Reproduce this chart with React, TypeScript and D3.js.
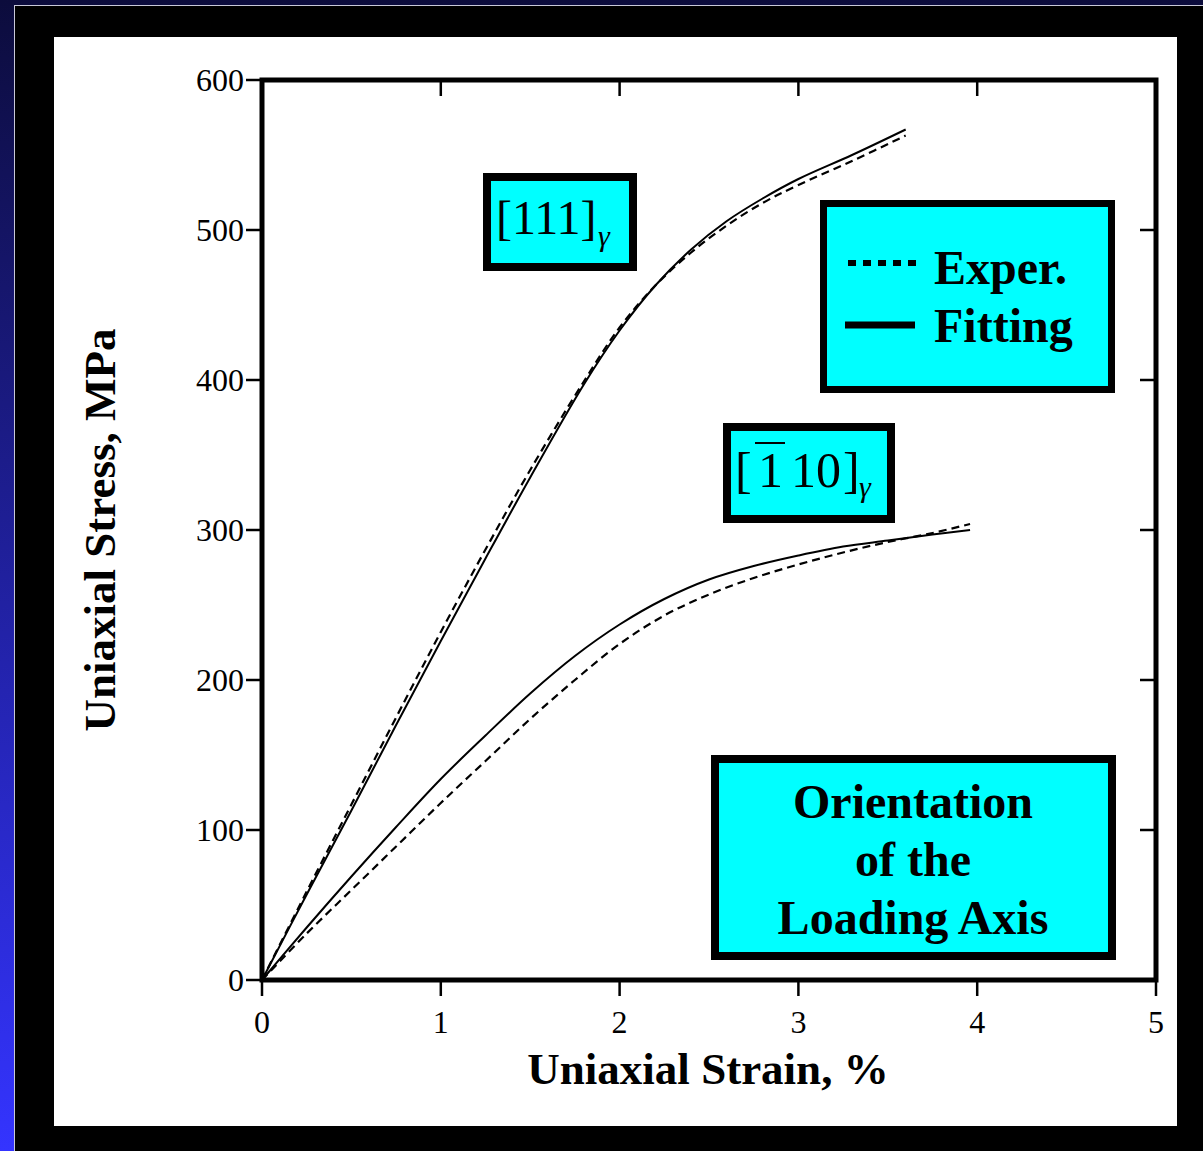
import React from 'react';
import * as d3 from 'd3';

// strain (%) / stress (MPa)
const fit111 = [
  [0, 0], [0.25, 57], [0.5, 113], [0.75, 170], [1.0, 226], [1.25, 281], [1.5, 335],
  [1.8, 397], [2.0, 433], [2.2, 463], [2.4, 487], [2.6, 506], [2.8, 521],
  [3.0, 534], [3.3, 550], [3.6, 567],
];
const exp111 = [
  [0, 0], [0.25, 59], [0.5, 117], [0.75, 175], [1.0, 232], [1.25, 287], [1.5, 340],
  [1.8, 399], [2.0, 435], [2.2, 463], [2.4, 485], [2.6, 503], [2.8, 518],
  [3.0, 530], [3.3, 546], [3.6, 563],
];
const fit110 = [
  [0, 0], [0.25, 35], [0.5, 69], [0.75, 102], [1.0, 134], [1.25, 163], [1.5, 191],
  [1.75, 216], [2.0, 237], [2.25, 254], [2.5, 267], [2.75, 276], [3.0, 283],
  [3.25, 289], [3.5, 293], [3.75, 297], [3.96, 300],
];
const exp110 = [
  [0, 0], [0.25, 31], [0.5, 60], [0.75, 89], [1.0, 118], [1.25, 146], [1.5, 174],
  [1.75, 200], [2.0, 224], [2.25, 243], [2.5, 257], [2.75, 268], [3.0, 277],
  [3.25, 285], [3.5, 292], [3.75, 298], [3.96, 304],
];
const xTicks = [0, 1, 2, 3, 4, 5];
const yTicks = [0, 100, 200, 300, 400, 500, 600];
const legendItems = ['Exper.', 'Fitting'];
const noteLines = ['Orientation', 'of the', 'Loading Axis'];

const serif = '"Liberation Serif", "Times New Roman", serif';

const App = () => {
  const x = d3.scaleLinear().domain([0, 5]).range([262, 1156]);
  const y = d3.scaleLinear().domain([0, 600]).range([980, 80]);
  const line = d3.line<number[]>()
    .x(d => x(d[0]))
    .y(d => y(d[1]))
    .curve(d3.curveCatmullRom.alpha(0.5));

  return (
    <div style={{ position: 'absolute', left: 0, top: 0 }}>
      <svg width={1203} height={1151} style={{ display: 'block' }}>
        <defs>
          <linearGradient id="bg" x1="0" y1="0" x2="0" y2="1">
            <stop offset="0" stopColor="#0c0c3c" />
            <stop offset="1" stopColor="#3434ff" />
          </linearGradient>
        </defs>
        <rect x={0} y={0} width={1203} height={1151} fill="url(#bg)" />
        <rect x={14.5} y={5.5} width={1200} height={1160} fill="#000" stroke="#c8c8d8" strokeWidth={1} />
        <rect x={54} y={37} width={1123} height={1089} fill="#fff" />

        {/* curves */}
        <path d={line(exp111) || ''} fill="none" stroke="#000" strokeWidth={2.2} strokeDasharray="8 5" />
        <path d={line(fit111) || ''} fill="none" stroke="#000" strokeWidth={2} />
        <path d={line(exp110) || ''} fill="none" stroke="#000" strokeWidth={2.2} strokeDasharray="8 5" />
        <path d={line(fit110) || ''} fill="none" stroke="#000" strokeWidth={2} />

        {/* frame */}
        <rect x={x(0)} y={y(600)} width={x(5) - x(0)} height={y(0) - y(600)}
          fill="none" stroke="#000" strokeWidth={5} />

        {/* y ticks */}
        {yTicks.map(t => (
          <g key={'y' + t}>
            <line x1={x(0) - 16} x2={x(0)} y1={y(t)} y2={y(t)} stroke="#000" strokeWidth={2.5} />
            {t > 0 && t < 600 && (
              <line x1={x(5) - 16} x2={x(5)} y1={y(t)} y2={y(t)} stroke="#000" strokeWidth={2.5} />
            )}
            <text x={x(0) - 18} y={y(t) + 11} textAnchor="end" fontFamily={serif} fontSize={32}>{t}</text>
          </g>
        ))}

        {/* x ticks */}
        {xTicks.map(t => (
          <g key={'x' + t}>
            <line x1={x(t)} x2={x(t)} y1={y(0)} y2={y(0) + 16} stroke="#000" strokeWidth={2.5} />
            {t > 0 && t < 5 && (
              <line x1={x(t)} x2={x(t)} y1={y(600)} y2={y(600) + 16} stroke="#000" strokeWidth={2.5} />
            )}
            <text x={x(t)} y={1033} textAnchor="middle" fontFamily={serif} fontSize={32}>{t}</text>
          </g>
        ))}

        {/* axis titles */}
        <text x={708} y={1084} textAnchor="middle" fontFamily={serif} fontWeight="bold" fontSize={45}>
          Uniaxial Strain, %
        </text>
        <text transform="translate(115,530) rotate(-90)" textAnchor="middle" fontFamily={serif}
          fontWeight="bold" fontSize={45}>
          Uniaxial Stress, MPa
        </text>

        {/* [111] label */}
        <rect x={487} y={177} width={146} height={90} fill="#00ffff" stroke="#000" strokeWidth={8} />
        <text x={496} y={234} fontFamily={serif} fontSize={48}>[111]</text>
        <text x={598} y={246} fontFamily={serif} fontStyle="italic" fontSize={30}>γ</text>

        {/* [-110] label */}
        <rect x={727} y={427} width={164} height={92} fill="#00ffff" stroke="#000" strokeWidth={8} />
        <text x={735} y={487} fontFamily={serif} fontSize={50}>[</text>
        <text x={758} y={487} fontFamily={serif} fontSize={50}>1</text>
        <line x1={755} x2={785} y1={443} y2={443} stroke="#000" strokeWidth={2} />
        <text x={791} y={487} fontFamily={serif} fontSize={50}>10</text>
        <text x={843} y={487} fontFamily={serif} fontSize={50}>]</text>
        <text x={859} y={497} fontFamily={serif} fontStyle="italic" fontSize={30}>γ</text>

        {/* legend */}
        <rect x={823.5} y={203.5} width={288} height={186} fill="#00ffff" stroke="#000" strokeWidth={7} />
        <line x1={848} x2={920} y1={263} y2={263} stroke="#000" strokeWidth={6} strokeDasharray="8 7" />
        <line x1={845} x2={915} y1={325} y2={325} stroke="#000" strokeWidth={7} />
        {legendItems.map((s, i) => (
          <text key={s} x={934} y={284 + i * 58} fontFamily={serif} fontWeight="bold" fontSize={48}>{s}</text>
        ))}

        {/* orientation note */}
        <rect x={715} y={759} width={397} height={197} fill="#00ffff" stroke="#000" strokeWidth={8} />
        {noteLines.map((s, i) => (
          <text key={s} x={913} y={818 + i * 58} textAnchor="middle" fontFamily={serif}
            fontWeight="bold" fontSize={48}>{s}</text>
        ))}
      </svg>
    </div>
  );
};

export default App;
